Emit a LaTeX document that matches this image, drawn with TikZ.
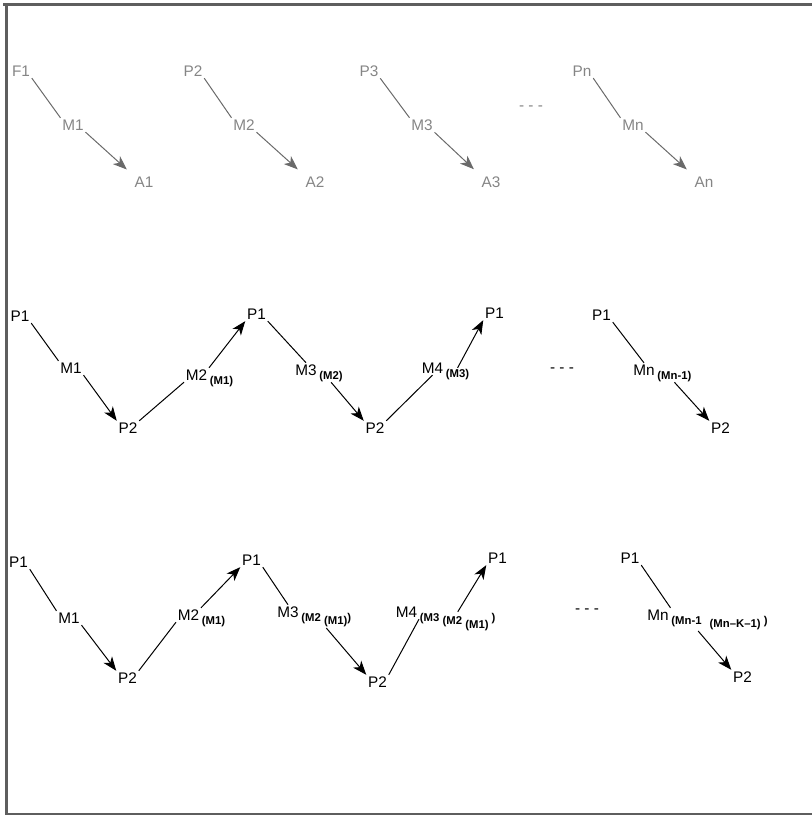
\documentclass[tikz,border=0pt]{standalone}
\usepackage{fontspec}
\setmainfont{Liberation Sans}
\usetikzlibrary{arrows.meta}
\definecolor{frame}{HTML}{5E5E5E}
\definecolor{pale}{HTML}{858585}
\definecolor{paleline}{HTML}{6A6A6A}
\newcommand{\subf}{\fontsize{8.5}{10}\selectfont\bfseries}
\newcommand{\lo}[1]{\raisebox{-2.8pt}{\subf #1}}
\tikzset{
  lbl/.style={inner sep=1.2pt, font=\fontsize{11.5}{13}\selectfont},
  grey/.style={lbl, text=pale},
  tail/.style={inner sep=0.5pt, anchor=base west},
  con/.style={line width=0.75pt},
  arr/.style={con, -{Stealth[length=10.5pt,width=8pt,inset=3pt]}},
}

\begin{document}
\begin{tikzpicture}[x=0.75pt,y=-0.75pt]
				\useasboundingbox (0,0) rectangle (812,815);
				\draw [frame, line width=2.25pt](3,4.5)--(812,4.5);
				\draw [frame, line width=2.25pt](6.5,3)--(6.5,815);
				\draw [frame, line width=1.5pt](5,813.5)--(812,813.5);
				% first row
				\node [grey] (f1) at (21,71){F1};
				\node [grey] (am1) at (73,125){M1};
				\node [grey] (a1) at (144,182){A1};
				\node [grey] (f2) at (193,71){P2};
				\node [grey] (am2) at (244,125){M2};
				\node [grey] (a2) at (315,182){A2};
				\node [grey] (f3) at (369,71){P3};
				\node [grey] (am3) at (422,125){M3};
				\node [grey] (a3) at (491,182){A3};
				\node [grey] (adots) at (531,108){- - -};
				\node [grey] (fn) at (582,71){Pn};
				\node [grey] (amn) at (633,125){Mn};
				\node [grey] (an) at (704,182){An};
				\draw [con, paleline](f1.south east)--(am1.north west);
				\draw [arr, paleline, shorten >=6pt](am1.south east)--(a1.north west);
				\draw [con, paleline](f2.south east)--(am2.north west);
				\draw [arr, paleline, shorten >=6pt](am2.south east)--(a2.north west);
				\draw [con, paleline](f3.south east)--(am3.north west);
				\draw [arr, paleline, shorten >=6pt](am3.south east)--(a3.north west);
				\draw [con, paleline](fn.south east)--(amn.north west);
				\draw [arr, paleline, shorten >=6pt](amn.south east)--(an.north west);
				% second row
				\node [lbl] (b1) at (20,316){P1};
				\node [lbl] (bm1) at (71,368){M1};
				\node [lbl] (b2) at (128,428){P2};
				\node [lbl] (bm2) at (196.5,375){M2};
				\node [tail] (bt2) at (bm2.base east){\lo{(M1)}};
				\node [lbl] (b3) at (256.5,314){P1};
				\node [lbl] (bm3) at (306,370){M3};
				\node [tail] (bt3) at (bm3.base east){\lo{(M2)}};
				\node [lbl] (b4) at (375,428){P2};
				\node [lbl] (bm4) at (432.5,368){M4};
				\node [tail] (bt4) at (bm4.base east){\lo{(M3)}};
				\node [lbl] (b5) at (494.5,313){P1};
				\node [lbl] (bdots) at (562,370){- - -};
				\node [lbl] (b6) at (601.5,315){P1};
				\node [lbl] (bmn) at (644,370){Mn};
				\node [tail] (btn) at (bmn.base east){\lo{(Mn-1)}};
				\node [lbl] (b7) at (720.5,428){P2};
				\draw [con](b1.south east)--(bm1.north west);
				\draw [arr](bm1.south east)--(b2.north west);
				\draw [con](b2.north east)--(bm2.south west);
				\draw [arr](bm2.north east)--(b3.south west);
				\draw [con](b3.south east)--(bm3.north);
				\draw [arr](bt3.south)--(b4.north west);
				\draw [con](b4.north east)--(bm4.south);
				\draw [arr](bt4.north)--(b5.south west);
				\draw [con](b6.south east)--(bmn.north);
				\draw [arr](btn.south)--(b7.north west);
				% third row
				\node [lbl] (c1) at (18.5,562){P1};
				\node [lbl] (cm1) at (69,618){M1};
				\node [lbl] (c2) at (127.5,678){P2};
				\node [lbl] (cm2) at (188.5,615){M2};
				\node [tail] (ct2) at (cm2.base east){\lo{(M1)}};
				\node [lbl] (c3) at (251.5,560){P1};
				\node [lbl] (cm3) at (288,612){M3};
				\node [tail] (ct3) at (cm3.base east){\lo{(M2 \lo{(M1)})}};
				\node [lbl] (c4) at (377.5,682){P2};
				\node [lbl] (cm4) at (406.5,612){M4};
				\node [tail] (ct4) at (cm4.base east){\lo{(M3 \lo{(M2 \lo{(M1)}}\ )}};
				\node [lbl] (c5) at (497.5,558){P1};
				\node [lbl] (cdots) at (587,611){- - -};
				\node [lbl] (c6) at (630,558){P1};
				\node [lbl] (cmn) at (658,615){Mn};
				\node [tail] (ctn) at (cmn.base east){\lo{(Mn-1\hspace{6pt}\lo{(Mn–K–1)}\ )}};
				\node [lbl] (c7) at (742.5,677){P2};
				\draw [con](c1.south east)--(cm1.north west);
				\draw [arr](cm1.south east)--(c2.north west);
				\draw [con](c2.north east)--(cm2.south west);
				\draw [arr](cm2.north east)--(c3.south west);
				\draw [con](c3.south east)--(cm3.north);
				\draw [arr](ct3.south)--(c4.north west);
				\draw [con](c4.north east)--(cm4.south east);
				\draw [arr](ct4.north)--(c5.south west);
				\draw [con](c6.south east)--(cmn.north east);
				\draw [arr]([xshift=-16pt]ctn.south)--(c7.north west);
			\end{tikzpicture}
\end{document}
